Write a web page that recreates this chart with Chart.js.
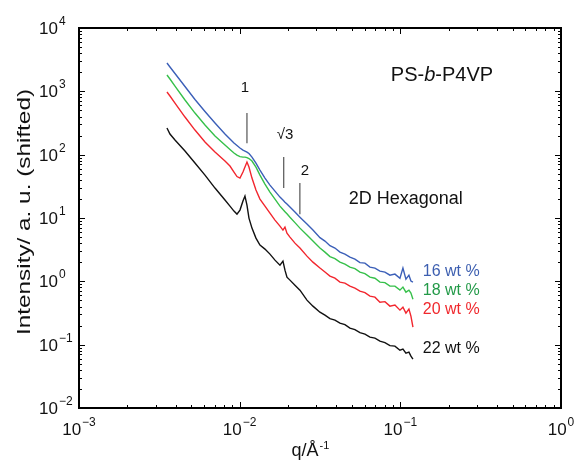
<!DOCTYPE html>
<html>
<head>
<meta charset="utf-8">
<script src="https://cdn.jsdelivr.net/npm/chart.js@4"></script>
<style>
  body { margin: 0; background: #fff; }
  canvas { display: block; }
</style>
</head>
<body>
<canvas id="saxs" width="576" height="460"></canvas>
<script>
// values: q in 1/Å, intensity shifted per curve
const qGrid = [0.003528, 0.003683, 0.003957, 0.004567, 0.005270, 0.006083, 0.007021, 0.008101, 0.008702, 0.009216,
  0.009621, 0.010043, 0.010484, 0.010789, 0.011103, 0.011425, 0.011927, 0.012630, 0.013374, 0.014370,
  0.015436, 0.016585, 0.017816, 0.018598, 0.019139, 0.019696, 0.020560, 0.022083, 0.023723, 0.026234, 0.028580,
  0.03160,
  0.03395, 0.03647, 0.03917, 0.04208, 0.04520, 0.04856, 0.05217, 0.05605, 0.06022, 0.06469, 0.06950,
  0.07465, 0.0802, 0.08616, 0.09256, 0.09943, 0.1038, 0.10835, 0.1131, 0.1164, 0.1198];

const wt16 = [2800, 2421, 1911, 1190, 742, 480, 316, 211.6, 176.4, 152.5,
  139.2, 127.2, 118.2, 114.0, 109.9, 104.1, 91.6, 73.7, 57.1, 42.7,
  33.1, 26.6, 21.4, 19.2, 17.8, 16.6, 14.9, 12.4, 10.3, 8.01, 6.44,
  4.90,
  4.32, 3.66, 3.35, 2.89, 2.69, 2.41, 2.24, 1.97, 1.94, 1.68, 1.62,
  1.45, 1.40, 1.25, 1.30, 1.12, 1.62, 1.08, 1.25, 1.01, 0.97];

const wt18 = [1809, 1564, 1212, 729, 454, 293.5, 196.7, 141.8, 120.4, 106.0,
  98.6, 93.3, 91.6, 91.6, 90.0, 86.8, 79.2, 63.7, 47.6, 34.3,
  25.7, 19.9, 15.4, 13.6, 12.6, 11.7, 10.3, 8.46, 6.92, 5.37, 4.32,
  3.35,
  2.89, 2.46, 2.28, 2.01, 1.87, 1.68, 1.59, 1.40, 1.32, 1.165, 1.12,
  0.97, 0.954, 0.840, 0.840, 0.726, 0.810, 0.675, 0.726, 0.651, 0.523];

const wt20 = [974.8, 842.7, 653.5, 392.7, 244.7, 158.2, 109.9, 79.2, 66.1, 53.1,
  45.1, 42.7, 53.1, 63.7, 76.4, 63.7, 42.7, 27.6, 19.9, 15.4,
  11.95, 9.27, 7.45, 6.44, 7.18, 5.77, 4.99, 4.01, 3.35, 2.50, 2.01,
  1.62,
  1.40, 1.208, 1.12, 0.97, 0.937, 0.840, 0.781, 0.700, 0.663, 0.584, 0.563,
  0.469, 0.478, 0.406, 0.421, 0.351, 0.391, 0.315, 0.364, 0.282, 0.189];

const wt22 = [263.2, 211.6, 170.1, 114.0, 73.7, 47.6, 29.7, 19.2, 15.4, 12.85,
  11.52, 13.33, 18.49, 22.18, 15.99, 9.96, 6.92, 4.81, 3.73, 3.23,
  2.69, 2.16, 1.80, 2.08, 1.50, 1.165, 1.045, 0.871, 0.726, 0.505, 0.406,
  0.326,
  0.292, 0.2575, 0.244, 0.2186, 0.207, 0.1823, 0.1726, 0.1547, 0.1465, 0.1314, 0.1267,
  0.1136, 0.1075, 0.0964, 0.0947, 0.0818, 0.0849, 0.0734, 0.0761, 0.0658, 0.0590];

const seriesNames = ['22 wt %', '20 wt %', '18 wt %', '16 wt %'];
const seriesValues = [wt22, wt20, wt18, wt16];
const lineColors = ['#111111', '#f2262e', '#36c04a', '#3b5fb8'];
const textColors = ['#111111', '#f0282d', '#239a48', '#3d5fb0'];
const nameQ = 0.138;
const nameI = [0.088, 0.364, 0.726, 1.45];

// reflection markers (q*, sqrt3 q*, 2 q*)
const peakNames = ['1', '\u221A3', '2'];
const peakQ = [0.0111, 0.0188, 0.0237];
const peakTop = [454, 91.6, 35.6];
const peakBottom = [152, 29.7, 11.5];
const peakNameQ = [0.0108, 0.01914, 0.02545];
const peakNameI = [1127, 204, 55];

const xDecades = [-3, -2, -1, 0];
const yDecades = [-2, -1, 0, 1, 2, 3, 4];

const FONT = '"Liberation Sans", Arial, Helvetica, sans-serif';

function pairs(qs, is) {
    return qs.map((q, k) => ({ x: q, y: is[k] }));
}

function drawPow(ctx, exp, x, y, mode) {
    let base = '10';
    let sup = (exp < 0 ? '\u2212' : '') + Math.abs(exp);
    ctx.font = '17px ' + FONT;
    let wb = ctx.measureText(base).width;
    ctx.font = '12px ' + FONT;
    let ws = ctx.measureText(sup).width;
    let x0 = mode === 'y' ? x - wb : x - (wb + ws + 1) / 2;
    ctx.textAlign = 'left';
    ctx.textBaseline = 'alphabetic';
    ctx.font = '17px ' + FONT;
    ctx.fillText(base, x0, y + 6);
    ctx.font = '12px ' + FONT;
    ctx.fillText(sup, x0 + wb + 1, y - 3);
}

const framePlugin = {
    id: 'frame',
    afterDraw(chart) {
        const ctx = chart.ctx;
        const a = chart.chartArea;
        const xs = chart.scales.x;
        const ys = chart.scales.y;
        ctx.save();
        ctx.strokeStyle = '#000';
        ctx.fillStyle = '#111';

        // box
        ctx.lineWidth = 2;
        ctx.strokeRect(a.left, a.top, a.right - a.left, a.bottom - a.top);

        // inward ticks on all four sides
        ctx.lineWidth = 1;
        ctx.beginPath();
        xDecades.forEach(d => {
            for (let m = 1; m <= 9; m++) {
                let v = m * Math.pow(10, d);
                if (v > 1.0001) break;
                let px = Math.round(xs.getPixelForValue(v)) + 0.5;
                let len = m === 1 ? 6 : 3;
                ctx.moveTo(px, a.bottom); ctx.lineTo(px, a.bottom - len);
                ctx.moveTo(px, a.top); ctx.lineTo(px, a.top + len);
            }
        });
        yDecades.forEach(d => {
            for (let m = 1; m <= 9; m++) {
                let v = m * Math.pow(10, d);
                if (v > 10001) break;
                let py = Math.round(ys.getPixelForValue(v)) + 0.5;
                let len = m === 1 ? 6 : 3;
                ctx.moveTo(a.left, py); ctx.lineTo(a.left + len, py);
                ctx.moveTo(a.right, py); ctx.lineTo(a.right - len, py);
            }
        });
        ctx.stroke();

        // tick labels
        xDecades.forEach(d => drawPow(ctx, d, xs.getPixelForValue(Math.pow(10, d)), a.bottom + 21, 'x'));
        yDecades.forEach(d => drawPow(ctx, d, a.left - 21, ys.getPixelForValue(Math.pow(10, d)), 'y'));

        // axis titles
        ctx.textAlign = 'left';
        ctx.textBaseline = 'alphabetic';
        ctx.font = '18px ' + FONT;
        let xt = 'q/\u00C5';
        let wq = ctx.measureText(xt).width;
        ctx.font = '11px ' + FONT;
        let we = ctx.measureText('-1').width;
        let tx = 310 - (wq + we) / 2;
        ctx.font = '18px ' + FONT;
        ctx.fillText(xt, tx, 456);
        ctx.font = '11px ' + FONT;
        ctx.fillText('-1', tx + wq + 1, 449);

        ctx.save();
        ctx.translate(25, 212);
        ctx.rotate(-Math.PI / 2);
        ctx.font = '19px ' + FONT;
        let yt = 'Intensity/ a. u. (shifted)';
        let wy = ctx.measureText(yt).width;
        ctx.scale(246 / wy, 1);
        ctx.textAlign = 'center';
        ctx.textBaseline = 'middle';
        ctx.fillText(yt, 0, 0);
        ctx.restore();

        // reflection markers
        ctx.strokeStyle = '#555';
        ctx.lineWidth = 1.2;
        ctx.beginPath();
        peakQ.forEach((q, k) => {
            let px = xs.getPixelForValue(q);
            ctx.moveTo(px, ys.getPixelForValue(peakTop[k]));
            ctx.lineTo(px, ys.getPixelForValue(peakBottom[k]));
        });
        ctx.stroke();
        ctx.font = '15px ' + FONT;
        ctx.textAlign = 'center';
        ctx.textBaseline = 'middle';
        ctx.fillStyle = '#111';
        peakNames.forEach((t, k) => {
            ctx.fillText(t, xs.getPixelForValue(peakNameQ[k]), ys.getPixelForValue(peakNameI[k]));
        });

        // sample and morphology text
        ctx.textAlign = 'left';
        let parts = [['PS-', ''], ['b', 'italic '], ['-P4VP', '']];
        let total = 0;
        parts.forEach(p => { ctx.font = p[1] + '20px ' + FONT; total += ctx.measureText(p[0]).width; });
        let cx = xs.getPixelForValue(0.1815) - total / 2;
        let cy = ys.getPixelForValue(1810);
        parts.forEach(p => {
            ctx.font = p[1] + '20px ' + FONT;
            ctx.fillText(p[0], cx, cy);
            cx += ctx.measureText(p[0]).width;
        });
        ctx.font = '18px ' + FONT;
        ctx.textAlign = 'center';
        ctx.fillText('2D Hexagonal', xs.getPixelForValue(0.108), ys.getPixelForValue(19.9));

        ctx.font = '16px ' + FONT;
        ctx.textAlign = 'left';
        seriesNames.forEach((n, k) => {
            ctx.fillStyle = textColors[k];
            ctx.fillText(n, xs.getPixelForValue(nameQ), ys.getPixelForValue(nameI[k]));
        });
        ctx.restore();
    }
};

const ctx = document.getElementById('saxs').getContext('2d');
new Chart(ctx, {
    type: 'line',
    data: {
        datasets: seriesNames.map((n, k) => ({
            label: n,
            data: pairs(qGrid, seriesValues[k]),
            borderColor: lineColors[k]
        }))
    },
    options: {
        responsive: false,
        animation: false,
        datasets: { line: { borderWidth: 1.4, pointRadius: 0, tension: 0, fill: false } },
        layout: { padding: { left: 79, right: 15, top: 28, bottom: 52 } },
        plugins: { legend: { display: false }, tooltip: { enabled: false } },
        scales: {
            x: { type: 'logarithmic', min: 0.001, max: 1, display: false },
            y: { type: 'logarithmic', min: 0.01, max: 10000, display: false }
        }
    },
    plugins: [framePlugin]
});
</script>
</body>
</html>
